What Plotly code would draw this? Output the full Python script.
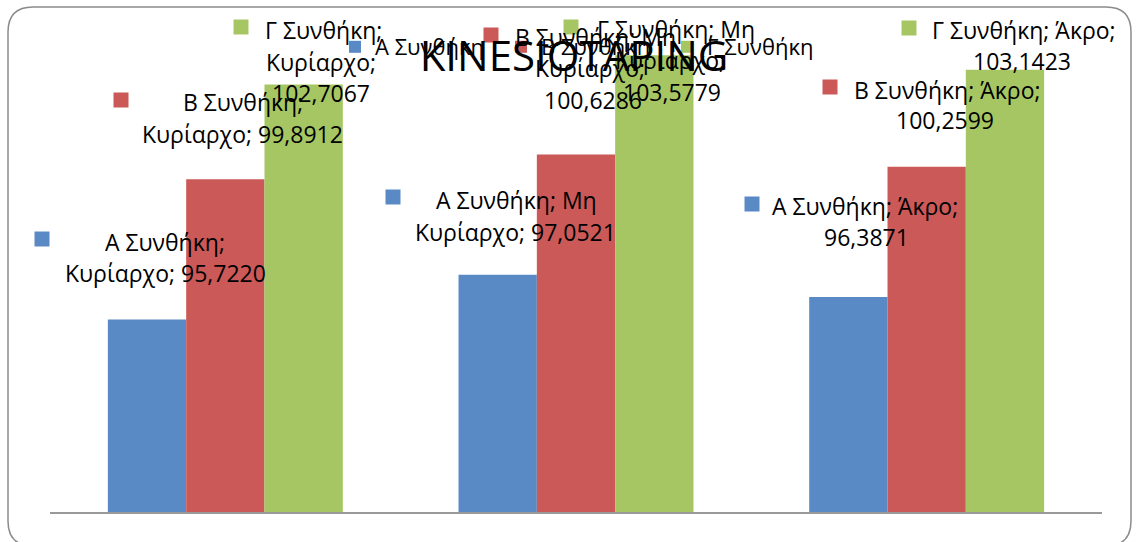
import plotly.graph_objects as go

# ---------------- data ----------------
categories = ["Κυρίαρχο", "Μη Κυρίαρχο", "Άκρο"]
series_names = ["Α Συνθήκη", "Β Συνθήκη", "Γ Συνθήκη"]
values_a = [95.7220, 97.0521, 96.3871]
values_b = [99.8912, 100.6286, 100.2599]
values_g = [102.7067, 103.5779, 103.1423]
title_text = "KINESIOTAPING"

# ---------------- styles / layout ----------------
series_values = [values_a, values_b, values_g]
colors = ["#5A8AC6", "#CB5957", "#A6C663"]
FONT = "Open Sans"
W, H = 1136, 542
ML, MR, MT, MB = 50, 34, 41, 30
PW, PH = W - ML - MR, H - MT - MB
Y_RANGE = [90, 104]


def px_x(px):
    return (px - ML) / PW


def px_y(py):
    return (H - MB - py) / PH


# label placement (pixels): square centre, words per line, line anchors (x, y, xanchor)
label_layout = {
    (0, 0): ((42, 239), [2, 2], [(165, 242, "center"), (165, 273, "center")]),
    (0, 1): ((393, 197), [3, 2], [(516, 200, "center"), (515, 232, "center")]),
    (0, 2): ((752, 204), [3, 1], [(865, 206, "center"), (866, 237, "center")]),
    (1, 0): ((121, 100), [2, 2], [(243, 102, "center"), (243, 134, "center")]),
    (1, 1): ((491, 35), [3, 1, 1], [(513, 37, "left"), (590, 68, "center"), (593, 100, "center")]),
    (1, 2): ((830, 87), [3, 1], [(852, 90, "left"), (945, 120, "center")]),
    (2, 0): ((241, 27), [2, 1, 1], [(263, 30, "left"), (321, 62, "center"), (321, 93, "center")]),
    (2, 1): ((571, 27), [3, 1, 1], [(595, 29, "left"), (670, 60, "center"), (672, 92, "center")]),
    (2, 2): ((909, 28), [3, 1], [(930, 30, "left"), (1022, 61, "center")]),
}

fig = go.Figure()
for name, vals, col in zip(series_names, series_values, colors):
    fig.add_trace(go.Bar(
        x=categories, y=vals, name=name,
        marker=dict(color=col, line=dict(width=0)),
        hoverinfo="x+y+name",
    ))

annotations = []
shapes = []
for si, (name, vals, col) in enumerate(zip(series_names, series_values, colors)):
    for ci, (cat, v) in enumerate(zip(categories, vals)):
        label = f"{name}; {cat}; {v:.4f}".replace(".", ",")
        words = label.split(" ")
        (sqx, sqy), splits, anchors = label_layout[(si, ci)]
        shapes.append(dict(
            type="rect", xref="paper", yref="paper",
            xsizemode="pixel", ysizemode="pixel",
            xanchor=px_x(sqx), yanchor=px_y(sqy),
            x0=-7.5, x1=7.5, y0=-7.5, y1=7.5,
            fillcolor=col, line=dict(width=0), layer="above",
        ))
        k = 0
        for n, (lx, ly, xa) in zip(splits, anchors):
            text = " ".join(words[k:k + n])
            k += n
            annotations.append(dict(
                text=text, xref="paper", yref="paper",
                x=px_x(lx), y=px_y(ly), xanchor=xa, yanchor="middle",
                showarrow=False, font=dict(family=FONT, size=23, color="#000000"),
            ))

# rounded chart border
x0, y0, x1, y1, r = 8, 7, 1131, 546, 25
path = (
    f"M {px_x(x0 + r)},{px_y(y0)} L {px_x(x1 - r)},{px_y(y0)} "
    f"Q {px_x(x1)},{px_y(y0)} {px_x(x1)},{px_y(y0 + r)} "
    f"L {px_x(x1)},{px_y(y1 - r)} Q {px_x(x1)},{px_y(y1)} {px_x(x1 - r)},{px_y(y1)} "
    f"L {px_x(x0 + r)},{px_y(y1)} Q {px_x(x0)},{px_y(y1)} {px_x(x0)},{px_y(y1 - r)} "
    f"L {px_x(x0)},{px_y(y0 + r)} Q {px_x(x0)},{px_y(y0)} {px_x(x0 + r)},{px_y(y0)} Z"
)
shapes.append(dict(type="path", xref="paper", yref="paper", path=path,
                   line=dict(color="#8C8C8C", width=1.5), layer="below"))

fig.update_layout(
    width=W, height=H,
    margin=dict(l=ML, r=MR, t=MT, b=MB),
    paper_bgcolor="white", plot_bgcolor="white",
    barmode="group", bargap=0.33, bargroupgap=0,
    title=dict(text=title_text, x=574 / W, xanchor="center",
               y=1 - 56 / H, yanchor="middle",
               font=dict(family=FONT, size=42, color="#000000")),
    showlegend=True,
    legend=dict(orientation="h", x=px_x(335), y=px_y(47), xanchor="left", yanchor="middle",
                font=dict(family=FONT, size=22, color="#000000"),
                entrywidth=121, entrywidthmode="pixels",
                bgcolor="rgba(0,0,0,0)", traceorder="normal"),
    xaxis=dict(showticklabels=False, showline=True, linecolor="#999999", linewidth=2,
               ticks="", showgrid=False, zeroline=False, fixedrange=True),
    yaxis=dict(range=Y_RANGE, visible=False, showgrid=False, zeroline=False, fixedrange=True),
    annotations=annotations,
    shapes=shapes,
    font=dict(family=FONT),
)

fig.write_html("out.html")
